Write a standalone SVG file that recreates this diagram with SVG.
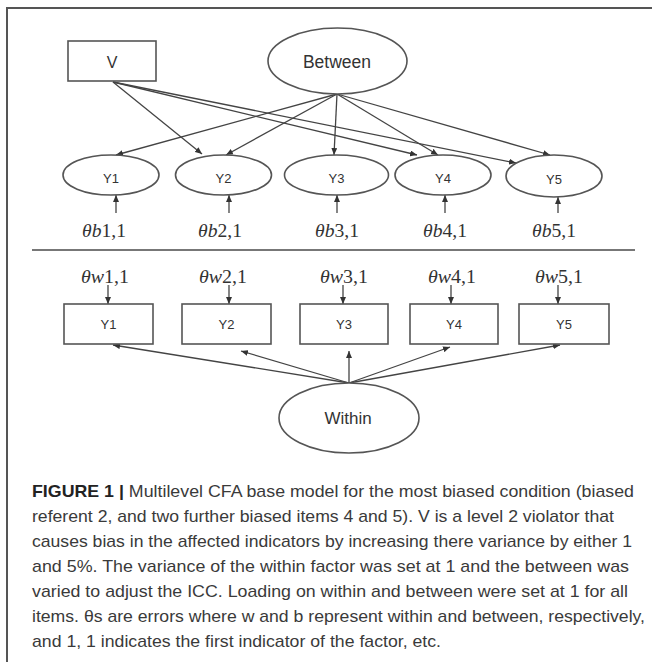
<svg xmlns="http://www.w3.org/2000/svg" width="652" height="662" viewBox="0 0 652 662">
<style>
  .ln{stroke:#444;stroke-width:1.3;fill:none}
  .nd{stroke:#555;stroke-width:1.6;fill:#fff}
  .lb{font-family:"Liberation Sans",Arial,sans-serif;fill:#333;text-anchor:middle}
  .th{font-family:"Liberation Serif","Times New Roman",serif;font-style:italic;font-size:18px;fill:#333}
  .up{font-style:normal}
  .cap{font-family:"Liberation Sans",Arial,sans-serif;font-size:17px;fill:#3a3a3a}
  .bold{font-weight:bold;fill:#222}
</style>
<defs>
  <marker id="ah" markerUnits="userSpaceOnUse" markerWidth="8" markerHeight="6" refX="7" refY="3" orient="auto">
    <path d="M0,0 L7,3 L0,6 z" fill="#333"/>
  </marker>
</defs>
<rect width="652" height="662" fill="#fff"/>
<g id="frame">
  <path d="M7,662 V8 H652" stroke="#555" stroke-width="2" fill="none"/>
</g>
<g id="connectors">
  <line class="ln" x1="337" y1="94" x2="116" y2="155" marker-end="url(#ah)"/>
  <line class="ln" x1="337" y1="94" x2="226" y2="155" marker-end="url(#ah)"/>
  <line class="ln" x1="337" y1="94" x2="334" y2="155" marker-end="url(#ah)"/>
  <line class="ln" x1="337" y1="94" x2="438" y2="155" marker-end="url(#ah)"/>
  <line class="ln" x1="337" y1="94" x2="550" y2="155" marker-end="url(#ah)"/>
  <line class="ln" x1="113" y1="82" x2="202" y2="154" marker-end="url(#ah)"/>
  <line class="ln" x1="113" y1="82" x2="417" y2="155" marker-end="url(#ah)"/>
  <line class="ln" x1="113" y1="82" x2="516" y2="163" marker-end="url(#ah)"/>
  <line class="ln" x1="116" y1="213" x2="116" y2="195" marker-end="url(#ah)"/>
  <line class="ln" x1="229" y1="213" x2="229" y2="195" marker-end="url(#ah)"/>
  <line class="ln" x1="337" y1="213" x2="337" y2="195" marker-end="url(#ah)"/>
  <line class="ln" x1="445" y1="213" x2="445" y2="195" marker-end="url(#ah)"/>
  <line class="ln" x1="558" y1="213" x2="558" y2="197" marker-end="url(#ah)"/>
  <line class="ln" x1="108" y1="285" x2="108" y2="304" marker-end="url(#ah)"/>
  <line class="ln" x1="229" y1="285" x2="229" y2="304" marker-end="url(#ah)"/>
  <line class="ln" x1="343" y1="285" x2="343" y2="304" marker-end="url(#ah)"/>
  <line class="ln" x1="451" y1="285" x2="451" y2="304" marker-end="url(#ah)"/>
  <line class="ln" x1="558" y1="285" x2="558" y2="304" marker-end="url(#ah)"/>
  <line class="ln" x1="349" y1="383" x2="113" y2="345" marker-end="url(#ah)"/>
  <line class="ln" x1="349" y1="383" x2="241" y2="351" marker-end="url(#ah)"/>
  <line class="ln" x1="349" y1="383" x2="349" y2="351" marker-end="url(#ah)"/>
  <line class="ln" x1="349" y1="383" x2="450" y2="347" marker-end="url(#ah)"/>
  <line class="ln" x1="349" y1="383" x2="560" y2="345" marker-end="url(#ah)"/>
</g>
<g id="V">
  <rect class="nd" x="68" y="41" width="88" height="40"/>
  <text class="lb" x="112" y="68" font-size="16">V</text>
</g>
<g id="Between">
  <ellipse class="nd" cx="337.5" cy="61" rx="69.5" ry="33"/>
  <text class="lb" x="337" y="68" font-size="17.5">Between</text>
</g>
<g id="Yb1"><ellipse class="nd" cx="111" cy="175" rx="48" ry="20"/><text class="lb" x="111" y="183" font-size="13">Y1</text></g>
<g id="Yb2"><ellipse class="nd" cx="223.5" cy="175" rx="48" ry="20"/><text class="lb" x="223.5" y="183" font-size="13">Y2</text></g>
<g id="Yb3"><ellipse class="nd" cx="336.5" cy="175" rx="52" ry="20"/><text class="lb" x="336.5" y="183" font-size="13">Y3</text></g>
<g id="Yb4"><ellipse class="nd" cx="443" cy="175" rx="48" ry="20"/><text class="lb" x="443" y="183" font-size="13">Y4</text></g>
<g id="Yb5"><ellipse class="nd" cx="554" cy="176" rx="48" ry="21"/><text class="lb" x="554" y="184" font-size="13">Y5</text></g>
<g id="eb1"><text class="th" x="82" y="237" textLength="44" lengthAdjust="spacingAndGlyphs">θb<tspan class="up">1,1</tspan></text></g>
<g id="eb2"><text class="th" x="198" y="237" textLength="44" lengthAdjust="spacingAndGlyphs">θb<tspan class="up">2,1</tspan></text></g>
<g id="eb3"><text class="th" x="315" y="237" textLength="44" lengthAdjust="spacingAndGlyphs">θb<tspan class="up">3,1</tspan></text></g>
<g id="eb4"><text class="th" x="423" y="237" textLength="44" lengthAdjust="spacingAndGlyphs">θb<tspan class="up">4,1</tspan></text></g>
<g id="eb5"><text class="th" x="532" y="237" textLength="44" lengthAdjust="spacingAndGlyphs">θb<tspan class="up">5,1</tspan></text></g>
<g id="separator"><line x1="32" y1="250" x2="635" y2="250" stroke="#777" stroke-width="2"/></g>
<g id="ew1"><text class="th" x="81" y="283" textLength="48" lengthAdjust="spacingAndGlyphs">θw<tspan class="up">1,1</tspan></text></g>
<g id="ew2"><text class="th" x="199" y="283" textLength="48" lengthAdjust="spacingAndGlyphs">θw<tspan class="up">2,1</tspan></text></g>
<g id="ew3"><text class="th" x="320" y="283" textLength="48" lengthAdjust="spacingAndGlyphs">θw<tspan class="up">3,1</tspan></text></g>
<g id="ew4"><text class="th" x="428" y="283" textLength="48" lengthAdjust="spacingAndGlyphs">θw<tspan class="up">4,1</tspan></text></g>
<g id="ew5"><text class="th" x="535" y="283" textLength="48" lengthAdjust="spacingAndGlyphs">θw<tspan class="up">5,1</tspan></text></g>
<g id="Yw1"><rect class="nd" x="64" y="304" width="89" height="40"/><text class="lb" x="108.5" y="329" font-size="13">Y1</text></g>
<g id="Yw2"><rect class="nd" x="182" y="304" width="89" height="40"/><text class="lb" x="226.5" y="329" font-size="13">Y2</text></g>
<g id="Yw3"><rect class="nd" x="300" y="304" width="88" height="40"/><text class="lb" x="344" y="329" font-size="13">Y3</text></g>
<g id="Yw4"><rect class="nd" x="410" y="304" width="88" height="40"/><text class="lb" x="454" y="329" font-size="13">Y4</text></g>
<g id="Yw5"><rect class="nd" x="519" y="304" width="90" height="40"/><text class="lb" x="564" y="329" font-size="13">Y5</text></g>
<g id="Within">
  <ellipse class="nd" cx="349" cy="418" rx="70" ry="35"/>
  <text class="lb" x="348" y="424" font-size="17">Within</text>
</g>
<g id="caption">
  <text class="cap" x="32" y="497" textLength="602" lengthAdjust="spacingAndGlyphs"><tspan class="bold">FIGURE 1 | </tspan>Multilevel CFA base model for the most biased condition (biased</text>
  <text class="cap" x="32" y="522" textLength="582" lengthAdjust="spacingAndGlyphs">referent 2, and two further biased items 4 and 5). V is a level 2 violator that</text>
  <text class="cap" x="32" y="547" textLength="600" lengthAdjust="spacingAndGlyphs">causes bias in the affected indicators by increasing there variance by either 1</text>
  <text class="cap" x="32" y="572" textLength="597" lengthAdjust="spacingAndGlyphs">and 5%. The variance of the within factor was set at 1 and the between was</text>
  <text class="cap" x="32" y="597" textLength="596" lengthAdjust="spacingAndGlyphs">varied to adjust the ICC. Loading on within and between were set at 1 for all</text>
  <text class="cap" x="32" y="622" textLength="613" lengthAdjust="spacingAndGlyphs">items. θs are errors where w and b represent within and between, respectively,</text>
  <text class="cap" x="32" y="647" textLength="409" lengthAdjust="spacingAndGlyphs">and 1, 1 indicates the first indicator of the factor, etc.</text>
</g>
</svg>
